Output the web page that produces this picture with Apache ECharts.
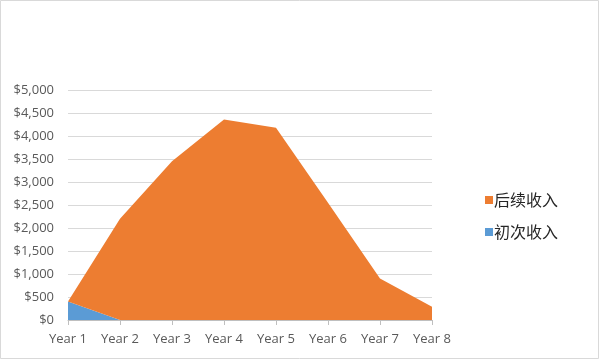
<!DOCTYPE html>
<html><head><meta charset="utf-8">
<script src="https://cdn.jsdelivr.net/npm/echarts@6/dist/echarts.min.js"></script>
<style>html,body{margin:0;padding:0;background:#fff}#c{width:600px;height:360px}</style>
</head><body><div id="c"></div>
<script>
const categories = ['Year 1','Year 2','Year 3','Year 4','Year 5','Year 6','Year 7','Year 8'];
const initialIncome = [400, 0, 0, 0, 0, 0, 0, 0];
const followIncome = [0, 2200, 3450, 4360, 4180, 2550, 900, 290];
const seriesNames = ['初次收入', '后续收入'];
const legendOrder = ['后续收入', '初次收入'];

const chart = echarts.init(document.getElementById('c'), null, {renderer: 'canvas'});
chart.setOption({
  animation: false,
  backgroundColor: '#fff',
  graphic: [{type: 'rect', shape: {x: 0.5, y: 0.5, width: 598, height: 358}, style: {fill: 'none', stroke: '#d9d9d9', lineWidth: 1}}],
  grid: {left: 68, right: 168, top: 90, bottom: 40},
  legend: {
    data: legendOrder, orient: 'vertical', left: 480, top: 187,
    itemWidth: 8, itemHeight: 8, itemGap: 16, icon: 'rect',
    textStyle: {fontSize: 16, color: '#262626', fontFamily: '"Noto Sans CJK SC", sans-serif', padding: [0,0,0,-4]}
  },
  xAxis: {
    type: 'category', data: categories, boundaryGap: false,
    axisLine: {lineStyle: {color: '#bfbfbf'}},
    axisTick: {show: true, alignWithLabel: true, length: 5, lineStyle: {color: '#bfbfbf'}},
    axisLabel: {color: '#595959', fontSize: 13, margin: 13, fontFamily: '"Open Sans", "Noto Sans", sans-serif'}
  },
  yAxis: {
    type: 'value', min: 0, max: 5000, interval: 500,
    axisLine: {show: false}, axisTick: {show: false},
    splitLine: {lineStyle: {color: '#d9d9d9'}},
    axisLabel: {color: '#595959', fontSize: 13, margin: 14, fontFamily: '"Open Sans", "Noto Sans", sans-serif',
      formatter: v => '$' + v.toLocaleString('en-US')}
  },
  series: [
    {name: seriesNames[0], type: 'line', stack: 'total', data: initialIncome, symbol: 'none',
     lineStyle: {width: 0}, areaStyle: {color: '#5B9BD5', opacity: 1}, itemStyle: {color: '#5B9BD5'}},
    {name: seriesNames[1], type: 'line', stack: 'total', data: followIncome, symbol: 'none',
     lineStyle: {width: 0}, areaStyle: {color: '#ED7D31', opacity: 1}, itemStyle: {color: '#ED7D31'}}
  ]
});
</script></body></html>
